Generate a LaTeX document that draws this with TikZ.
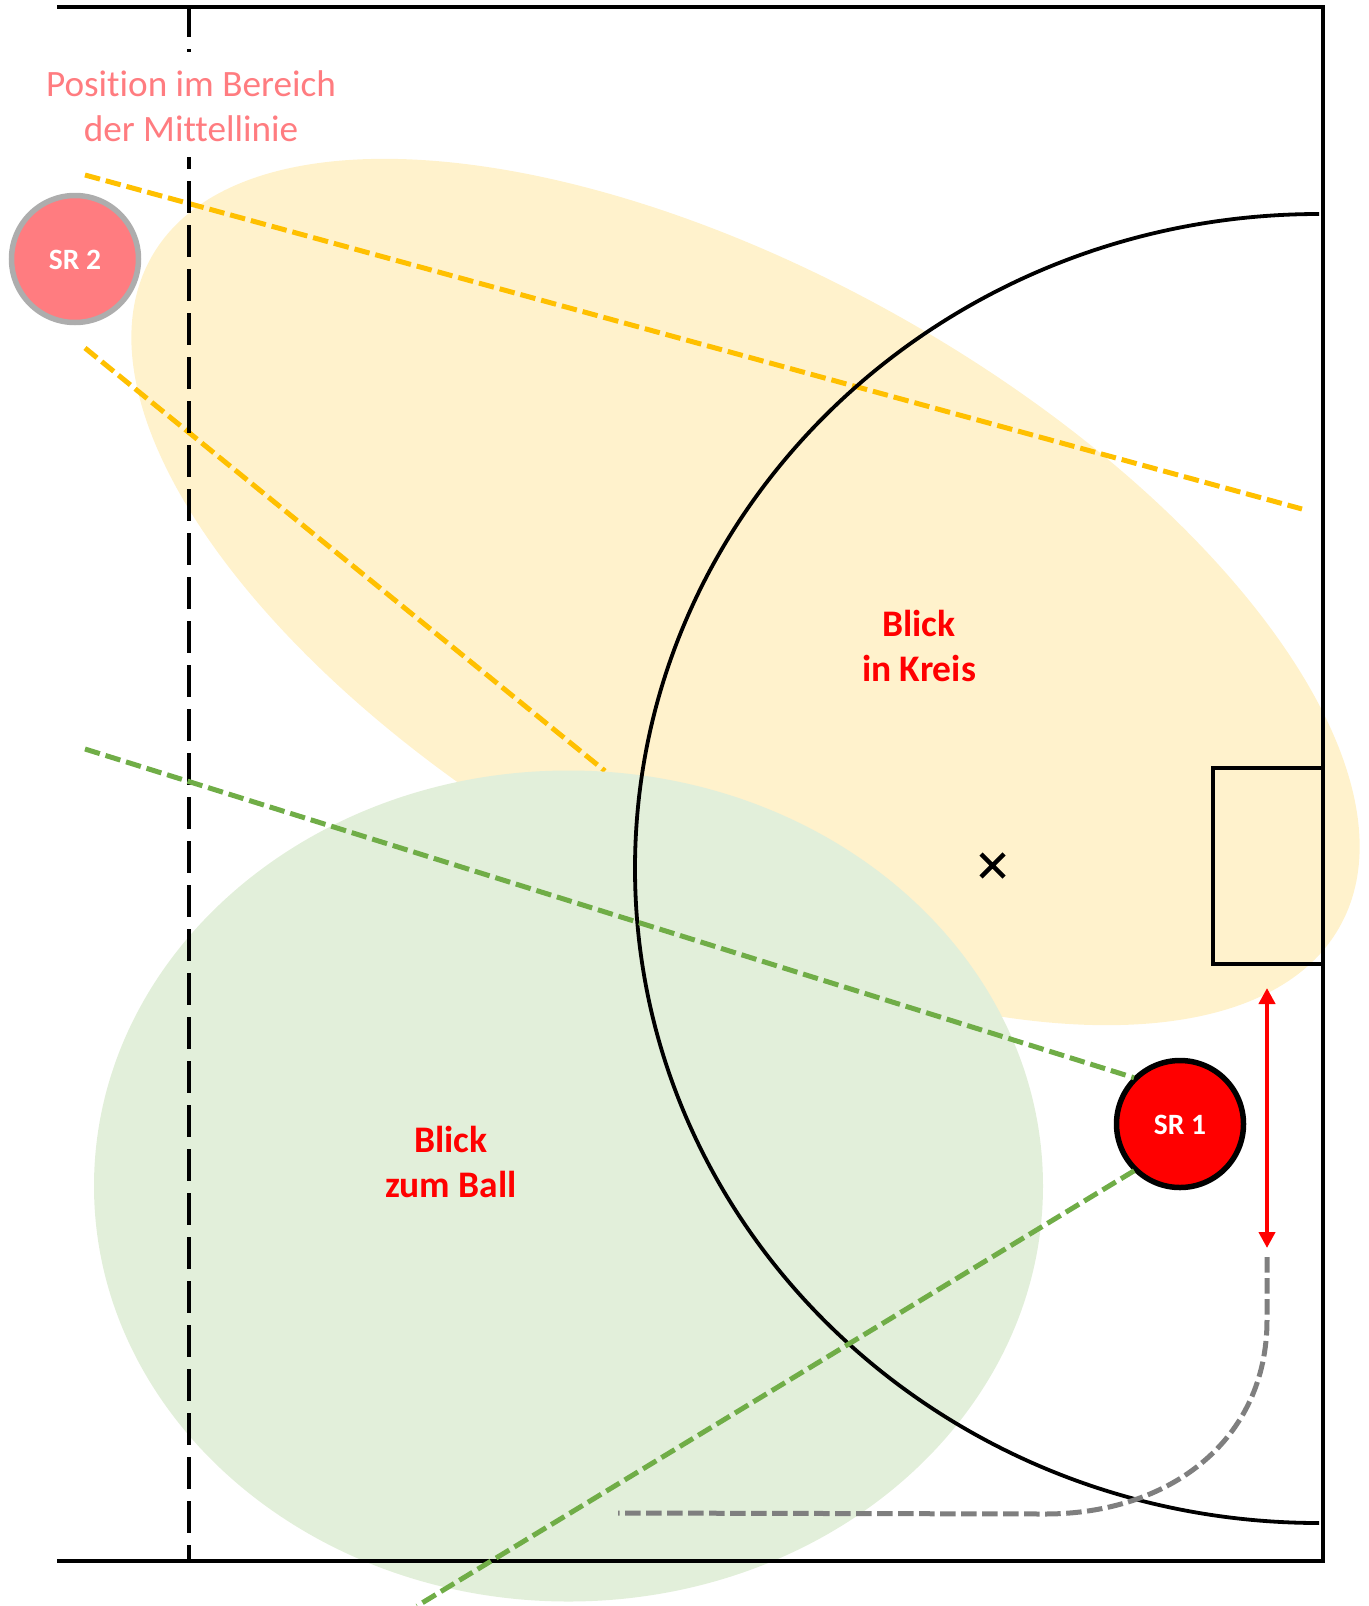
\documentclass[tikz,border=0pt]{standalone}
\usepackage{fontspec}
\setmainfont{Carlito}[RawFeature=-liga]
\usetikzlibrary{shapes.geometric,arrows.meta}
\definecolor{yfill}{HTML}{FFF2CC}
\definecolor{yline}{HTML}{FFC000}
\definecolor{gfill}{HTML}{E2EFDA}
\definecolor{gline}{HTML}{70AD47}
\definecolor{srtwo}{HTML}{FF7C80}
\definecolor{srring}{HTML}{ADADAD}
\definecolor{greyline}{HTML}{7F7F7F}
\tikzset{
  zone/.style={ellipse,draw=none,inner sep=0pt,outer sep=0pt},
  sight/.style={line width=5pt,dash pattern=on 15.5pt off 6pt},
  court/.style={line width=4pt,draw=black},
  referee/.style={circle,inner sep=0pt,outer sep=0pt,minimum size=127pt,line width=5.5pt},
  reflabel/.style={text=white,font=\fontsize{29.5}{32}\selectfont\bfseries,inner sep=0pt},
  label/.style={align=center,text=red,font=\fontsize{37.5}{45}\selectfont\bfseries,inner sep=0pt},
}
\begin{document}
\begin{tikzpicture}[x=1pt,y=-1pt]
\useasboundingbox (0,0) rectangle (1368,1606);
% zones
\node[zone,fill=yfill,minimum width=1364pt,minimum height=631pt,rotate=-29.4] (yzone) at (745.5,592) {};
\coordinate (ya) at (85,175); \coordinate (yb) at (1302,509);
\coordinate (yc) at (85,348); \coordinate (yd) at (605,771);
\draw[sight,yline] (ya) -- (yb);
\draw[sight,yline] (yc) -- (yd);
\node[zone,fill=gfill,minimum width=949pt,minimum height=831pt] (gzone) at (568.5,1186) {};
% court
\coordinate (tl) at (57,7); \coordinate (tr) at (1323,7); \coordinate (br) at (1323,1561); \coordinate (bl) at (57,1561);
\coordinate (mt) at (189,5); \coordinate (mb) at (189,1561);
\draw[court,dash pattern=on 32pt off 12pt] (mt) -- (mb);
\draw[court] (tl) -- (tr) -- (br) -- (bl);
\node[inner sep=0pt,minimum width=296pt,minimum height=105pt,fill=white] (textbg) at (191,104.5) {};
\node[align=center,text=srtwo,font=\fontsize{37.2}{45}\selectfont,inner sep=0pt] (pos) at (191,106) {Position im Bereich\\der Mittellinie};
\coordinate (arcstart) at (1319,214);
\draw[line width=3.8pt,black] (arcstart) arc[start angle=90,end angle=270,x radius=684pt,y radius=654.5pt];
\draw[court] (1323,768) -- (1213,768) -- (1213,964) -- (1323,964);
% cross
\coordinate (xa) at (981,854); \coordinate (xb) at (1004,877);
\coordinate (xc) at (981,877); \coordinate (xd) at (1004,854);
\draw[line width=4.5pt,black] (xa) -- (xb) (xc) -- (xd);
% sight lines of SR1
\coordinate (ge) at (85,749); \coordinate (gf) at (417,1606);
\node[referee,draw=black,fill=red] (sr1) at (1180,1124) {};
\node[reflabel] (sr1text) at (1180,1125) {SR 1};
\draw[sight,gline,shorten >=2pt] (ge) -- (sr1.134);
\draw[sight,gline,shorten <=2pt] (sr1.226) -- (gf);
\node[referee,draw=srring,fill=srtwo] (sr2) at (75,259) {};
\node[reflabel] (sr2text) at (75,260) {SR 2};
% arrows
\coordinate (aa) at (1267,988); \coordinate (ab) at (1267,1248);
\draw[line width=4.8pt,red,{Triangle[length=16pt,width=16pt]}-{Triangle[length=16pt,width=16pt]}] (aa) -- (ab);
\coordinate (ga) at (1267,1257); \coordinate (gb) at (618,1513);
\draw[line width=5pt,greyline,dash pattern=on 15.5pt off 5.5pt] (ga) -- (1267,1320) .. controls (1267,1440) and (1170,1514) .. (1045,1514) -- (gb);
% labels
\node[label] (kreis) at (919,645.5) {Blick\\in Kreis};
\node[label] (ball) at (451,1161.5) {Blick\\zum Ball};
\end{tikzpicture}
\end{document}
